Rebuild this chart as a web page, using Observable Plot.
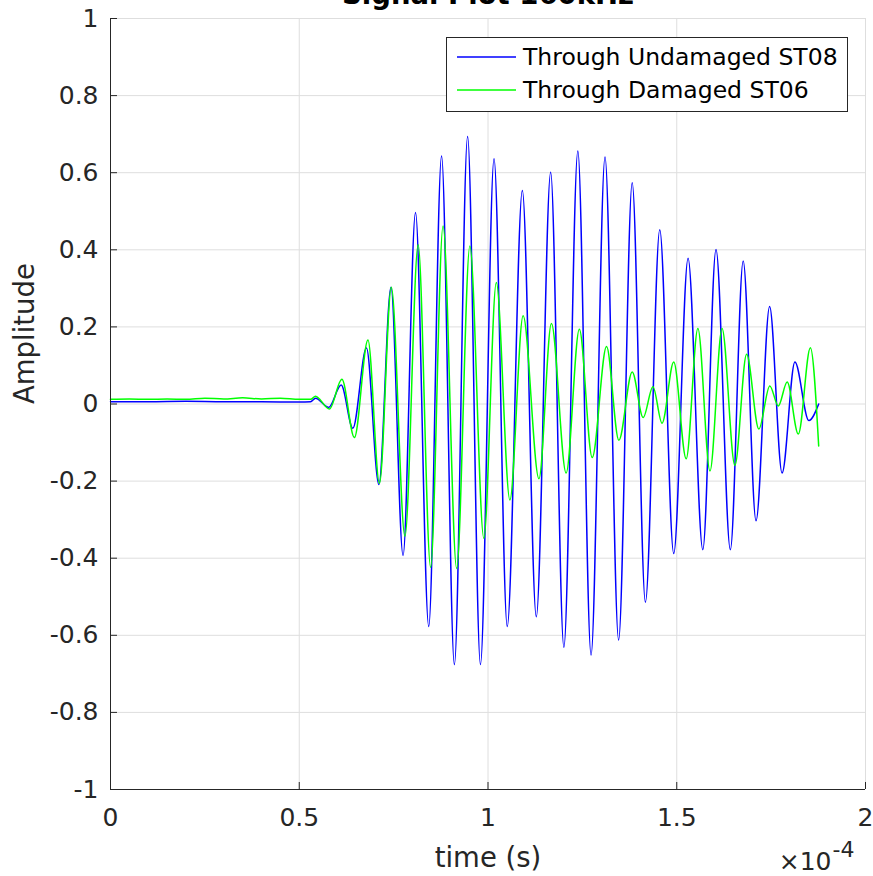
<!DOCTYPE html>
<html>
<head>
<meta charset="utf-8">
<script src="https://cdn.jsdelivr.net/npm/d3@7"></script>
<script src="https://cdn.jsdelivr.net/npm/@observablehq/plot@0.6"></script>
<style>
  html, body { margin: 0; padding: 0; background: #ffffff; }
  #chart svg { display: block; }
</style>
</head>
<body>
<div id="chart"></div>
<script>
// ---- chart text ----
const titleText = ["Signal Plot 160kHz"];
const xLabelText = ["time (s)"];
const yLabelText = ["Amplitude"];
const exponentBase = ["×10"];
const exponentPower = ["-4"];
const seriesNames = ["Through Undamaged ST08", "Through Damaged ST06"];
const seriesColors = ["#0000ff", "#00ff00"];

// ---- ticks (time in units of 1e-4 s) ----
const xTicks = [0, 0.5, 1, 1.5, 2];
const yTicks = [-1, -0.8, -0.6, -0.4, -0.2, 0, 0.2, 0.4, 0.6, 0.8, 1];

// ---- series: Through Undamaged ST08 (peaks / troughs) ----
const undamagedTime = [0, 0.1, 0.2, 0.3, 0.4, 0.5, 0.53, 0.543, 0.578, 0.611, 0.642, 0.678, 0.711, 0.743,
  0.775, 0.808, 0.843, 0.877, 0.911, 0.946, 0.980, 1.016, 1.051, 1.091, 1.128, 1.166, 1.201, 1.238,
  1.273, 1.310, 1.346, 1.382, 1.417, 1.455, 1.492, 1.530, 1.569, 1.604, 1.642, 1.676, 1.710, 1.746,
  1.779, 1.813, 1.850, 1.876];
const undamagedAmp = [0.006, 0.006, 0.007, 0.006, 0.006, 0.005, 0.006, 0.015, -0.009, 0.049, -0.063, 0.145, -0.209, 0.303,
  -0.393, 0.497, -0.577, 0.643, -0.676, 0.694, -0.676, 0.636, -0.577, 0.554, -0.552, 0.601, -0.631, 0.656,
  -0.651, 0.641, -0.612, 0.574, -0.514, 0.452, -0.388, 0.378, -0.378, 0.401, -0.378, 0.371, -0.303, 0.253,
  -0.179, 0.109, -0.043, 0.0];

// ---- series: Through Damaged ST06 ----
const damagedTime = [0, 0.05, 0.1, 0.15, 0.2, 0.25, 0.3, 0.35, 0.4, 0.45, 0.5, 0.53, 0.543, 0.58, 0.613, 0.646,
  0.682, 0.7125, 0.744, 0.78, 0.815, 0.848, 0.881, 0.917, 0.952, 0.989, 1.022, 1.058, 1.093, 1.135,
  1.168, 1.207, 1.242, 1.276, 1.314, 1.3466, 1.382, 1.411, 1.437, 1.461, 1.492, 1.525, 1.556, 1.588,
  1.620, 1.654, 1.685, 1.7175, 1.7465, 1.769, 1.7925, 1.822, 1.854, 1.876];
const damagedAmp = [0.012, 0.013, 0.012, 0.013, 0.012, 0.015, 0.013, 0.016, 0.013, 0.015, 0.012, 0.012, 0.02, -0.013, 0.064, -0.087,
  0.166, -0.206, 0.303, -0.343, 0.413, -0.424, 0.462, -0.427, 0.41, -0.348, 0.315, -0.249, 0.229, -0.194,
  0.209, -0.179, 0.194, -0.139, 0.149, -0.094, 0.083, -0.035, 0.045, -0.05, 0.109, -0.142, 0.196, -0.174,
  0.196, -0.159, 0.129, -0.065, 0.047, -0.005, 0.057, -0.078, 0.146, -0.109];

const undamaged = undamagedTime.map((t, i) => ({t, a: undamagedAmp[i]}));
const damaged = damagedTime.map((t, i) => ({t, a: damagedAmp[i]}));

const FONT = "'DejaVu Sans', 'Liberation Sans', sans-serif";
const INK = "#262626";
const GRID = "#dedede";

const chart = Plot.plot({
  width: 873,
  height: 876,
  marginLeft: 110,
  marginRight: 8,
  marginTop: 18,
  marginBottom: 87,
  style: {fontFamily: FONT, background: "#ffffff", color: INK, overflow: "visible"},
  x: {domain: [0, 2], label: null},
  y: {domain: [-1, 1], label: null},
  marks: [
    Plot.gridX(xTicks, {stroke: GRID, strokeOpacity: 1}),
    Plot.gridY(yTicks, {stroke: GRID, strokeOpacity: 1}),
    Plot.line(undamaged, {x: "t", y: "a", stroke: seriesColors[0], strokeWidth: 1.5, curve: "monotone-x"}),
    Plot.line(damaged, {x: "t", y: "a", stroke: seriesColors[1], strokeWidth: 1.5, curve: "monotone-x"}),
    Plot.ruleX([0], {stroke: INK}),
    Plot.ruleY([-1], {stroke: INK}),
    Plot.axisX(xTicks, {tickSize: -7, tickPadding: 26, fontSize: 25, tickFormat: d => String(d)}),
    Plot.axisY(yTicks, {tickSize: -7, tickPadding: 19, fontSize: 25, tickFormat: d => String(Math.round(d * 10) / 10)}),
    Plot.text(titleText, {text: d => d, frameAnchor: "top", lineAnchor: "bottom", dy: -15, fontSize: 27.5, fontWeight: "bold", fill: "#000000"}),
    Plot.text(xLabelText, {text: d => d, frameAnchor: "bottom", lineAnchor: "bottom", dy: 77, fontSize: 27.5, fill: INK}),
    Plot.text(yLabelText, {text: d => d, frameAnchor: "left", rotate: -90, lineAnchor: "bottom", dx: -77, fontSize: 27.5, fill: INK}),
    Plot.text(exponentBase, {text: d => d, frameAnchor: "bottom-right", textAnchor: "end", lineAnchor: "bottom", dx: -34, dy: 80, fontSize: 25, fill: INK}),
    Plot.text(exponentPower, {text: d => d, frameAnchor: "bottom-right", textAnchor: "start", lineAnchor: "bottom", dx: -33, dy: 67, fontSize: 22, fill: INK})
  ]
});

document.getElementById("chart").appendChild(chart);

// ---- legend box (MATLAB-style, inside the axes, top-right) ----
const svg = d3.select(chart);
const lg = svg.append("g").attr("font-family", FONT).attr("text-anchor", "start");
lg.append("rect")
  .attr("x", 446.5).attr("y", 37.5).attr("width", 401).attr("height", 74)
  .attr("fill", "#ffffff").attr("stroke", INK).attr("stroke-width", 1);
const rowY = [57, 90];
seriesNames.forEach((name, i) => {
  lg.append("line")
    .attr("x1", 457).attr("x2", 516).attr("y1", rowY[i]).attr("y2", rowY[i])
    .attr("stroke", seriesColors[i]).attr("stroke-width", 1.5);
  lg.append("text")
    .attr("x", 523).attr("y", rowY[i]).attr("dy", "0.36em")
    .attr("text-anchor", "start")
    .attr("font-size", 23.5).attr("fill", "#000000")
    .text(name);
});
</script>
</body>
</html>
